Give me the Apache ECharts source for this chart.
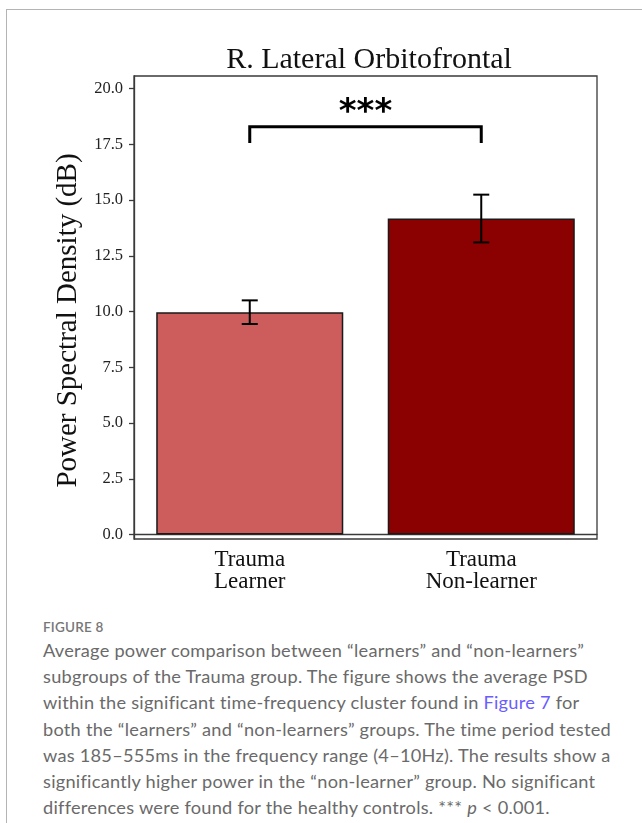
<!DOCTYPE html>
<html>
<head>
<meta charset="utf-8">
<script src="https://cdn.jsdelivr.net/npm/echarts@6/dist/echarts.min.js"></script>
<style>
  html, body { margin: 0; padding: 0; background: #fff; }
  #page { position: relative; width: 642px; height: 823px; overflow: hidden; }
  #frame { position: absolute; left: 6px; top: 9px; width: 650px; height: 830px;
           border-top: 1.5px solid #b4b4b4; border-left: 1.5px solid #b4b4b4; }
  #chart { position: absolute; left: 0; top: 0; width: 642px; height: 600px; }
  #caption { position: absolute; left: 43px; top: 617px; width: 600px;
             font-family: Lato, "Open Sans", sans-serif; color: #666; white-space: nowrap; }
  #caption .fig { font-size: 13.5px; font-weight: 600; color: #777; letter-spacing: 0.2px; line-height: 20px; }
  #caption .txt { font-size: 18.2px; letter-spacing: 0.25px; line-height: 26.2px; color: #6a6a6a; }
  #caption a { color: #6a5cff; text-decoration: none; }
</style>
</head>
<body>
<div id="page">
  <div id="frame"></div>
  <div id="chart"></div>
  <div id="caption">
    <div class="fig">FIGURE 8</div>
    <div class="txt">Average power comparison between “learners” and “non-learners”<br>subgroups of the Trauma group. The figure shows the average PSD<br>within the significant time-frequency cluster found in <a>Figure 7</a> for<br>both the “learners” and “non-learners” groups. The time period tested<br>was 185–555ms in the frequency range (4–10Hz). The results show a<br>significantly higher power in the “non-learner” group. No significant<br>differences were found for the healthy controls. *** <i>p</i> &lt; 0.001.</div>
  </div>
</div>
<script>
// Group labels, mean PSD (dB) and standard error per group
const groups = ['Trauma\nLearner', 'Trauma\nNon-learner'];
const meanPSD = [9.97, 14.17];
const errPSD = [0.53, 1.07];
const barColors = ['#cd5c5c', '#8b0000'];
const yTicks = [0, 2.5, 5, 7.5, 10, 12.5, 15, 17.5, 20];

// Significance bracket between the two groups
const sigPair = [0, 1];
const sigLevel = 18.28;
const sigDrop = 0.72;
const sigText = '***';

const serif = '"Liberation Serif", "DejaVu Serif", serif';
const chart = echarts.init(document.getElementById('chart'), null, { renderer: 'canvas' });

chart.setOption({
  animation: false,
  title: {
    text: 'R. Lateral Orbitofrontal',
    left: 364, top: 40, textAlign: 'center',
    textStyle: { fontFamily: serif, fontSize: 30, fontWeight: 'normal', color: '#111' }
  },
  grid: { left: 134, top: 76, width: 463, height: 463, show: true, borderColor: '#3a3a3a', borderWidth: 1.3, backgroundColor: 'transparent' },
  xAxis: {
    type: 'category',
    data: groups,
    axisLine: { lineStyle: { color: '#3a3a3a', width: 1.3 } },
    axisTick: { alignWithLabel: true, length: 5, lineStyle: { color: '#3a3a3a', width: 1.3 } },
    axisLabel: { fontFamily: serif, fontSize: 23, lineHeight: 22, color: '#111', margin: 10 }
  },
  yAxis: {
    type: 'value',
    min: -0.2, max: 20.56,
    name: 'Power Spectral Density (dB)',
    nameLocation: 'middle', nameRotate: 90, nameGap: 50,
    nameTextStyle: { fontFamily: serif, fontSize: 29, color: '#111', padding: [0, 0, 0, -26] },
    axisLine: { show: true, lineStyle: { color: '#3a3a3a', width: 1.3 } },
    axisTick: { show: true, length: 5, customValues: yTicks, lineStyle: { color: '#3a3a3a', width: 1.3 } },
    axisLabel: { customValues: yTicks, fontFamily: serif, fontSize: 16.5, color: '#222', margin: 11,
                 formatter: v => v.toFixed(1) },
    splitLine: { show: false }
  },
  series: [
    {
      type: 'bar',
      barWidth: '80.8%',
      data: meanPSD.map((v, i) => ({
        value: v,
        itemStyle: { color: barColors[i], borderColor: '#1a1a1a', borderWidth: 1.5 }
      })),
      z: 2
    },
    {
      // error bars with caps
      type: 'custom',
      data: meanPSD.map((v, i) => [i, v - errPSD[i], v + errPSD[i]]),
      renderItem: (params, api) => {
        const lo = api.coord([api.value(0), api.value(1)]);
        const hi = api.coord([api.value(0), api.value(2)]);
        const cap = 8;
        const style = { stroke: '#000', lineWidth: 2 };
        return {
          type: 'group',
          children: [
            { type: 'line', shape: { x1: hi[0], y1: hi[1], x2: lo[0], y2: lo[1] }, style },
            { type: 'line', shape: { x1: hi[0] - cap, y1: hi[1], x2: hi[0] + cap, y2: hi[1] }, style },
            { type: 'line', shape: { x1: lo[0] - cap, y1: lo[1], x2: lo[0] + cap, y2: lo[1] }, style }
          ]
        };
      },
      z: 5
    },
    {
      // significance bracket and stars
      type: 'custom',
      data: [[sigPair[0], sigPair[1], sigLevel, sigLevel - sigDrop]],
      renderItem: (params, api) => {
        const a = api.coord([api.value(0), api.value(2)]);
        const b = api.coord([api.value(1), api.value(2)]);
        const a2 = api.coord([api.value(0), api.value(3)]);
        const b2 = api.coord([api.value(1), api.value(3)]);
        return {
          type: 'group',
          children: [
            { type: 'polyline', shape: { points: [a2, a, b, b2] },
              style: { stroke: '#000', lineWidth: 3, fill: null, lineJoin: 'miter' } },
            { type: 'text', x: (a[0] + b[0]) / 2, y: a[1] + 3,
              style: { text: sigText, fontFamily: '"DejaVu Sans", sans-serif', fontWeight: 'bold',
                       fontSize: 34, fill: '#000', align: 'center', verticalAlign: 'bottom' } }
          ]
        };
      },
      z: 5
    }
  ]
});
</script>
</body>
</html>
